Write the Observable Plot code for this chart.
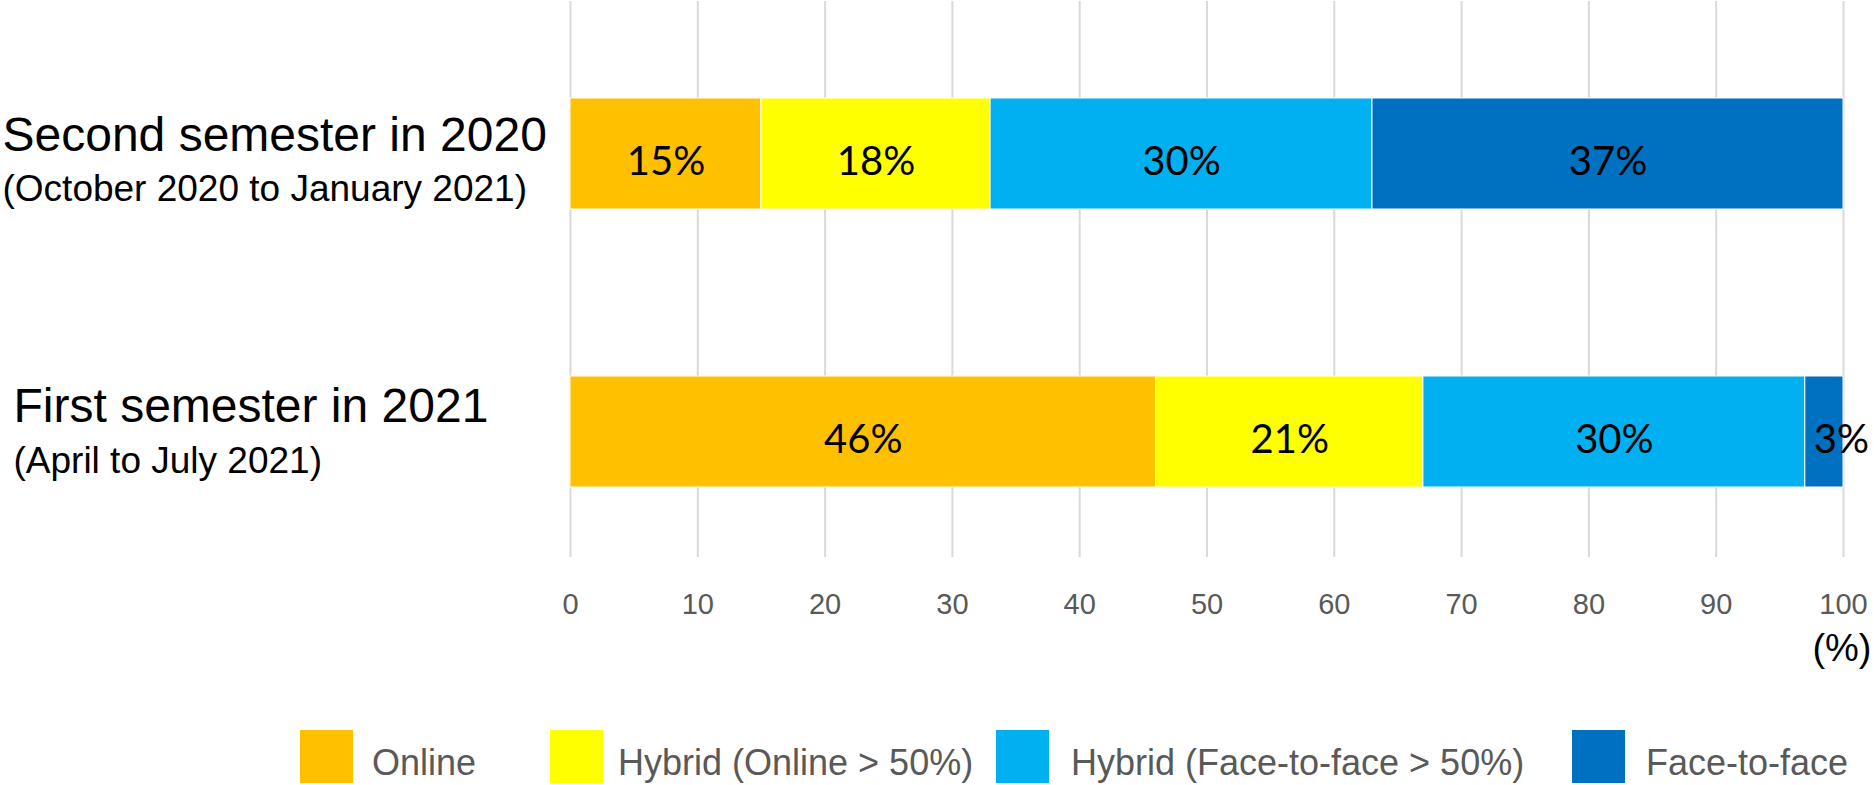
<!DOCTYPE html>
<html>
<head>
<meta charset="utf-8">
<script src="https://cdn.jsdelivr.net/npm/d3@7"></script>
<script src="https://cdn.jsdelivr.net/npm/@observablehq/plot@0.6"></script>
<style>
  html, body { margin: 0; padding: 0; background: #fff; }
  #wrap { position: relative; width: 1874px; height: 785px; overflow: hidden; background: #fff; }
  #wrap svg { position: absolute; left: 0; top: 0; }
  .sw { position: absolute; width: 53px; height: 53px; }
  .lt { position: absolute; font-family: 'Liberation Sans', Arial, sans-serif; font-size: 36px; line-height: 36px; color: #595959; white-space: nowrap; }
</style>
</head>
<body>
<div id="wrap"></div>
<script>
// ---- data ----
const categories = ["Second semester in 2020", "First semester in 2021"];
const subtitles = ["(October 2020 to January 2021)", "(April to July 2021)"];
const types = ["Online", "Hybrid (Online > 50%)", "Hybrid (Face-to-face > 50%)", "Face-to-face"];
const colors = ["#FFC000", "#FFFF00", "#00B0F0", "#0070C0"];
const values2020 = [15, 18, 30, 37];
const values2021 = [46, 21, 30, 3];
const xTicks = [0, 10, 20, 30, 40, 50, 60, 70, 80, 90, 100];
const xUnit = "(%)";

// ---- layout constants ----
const labelIndent = [-568, -557];
const titleDy = [-18, -25];
const subDy = [35, 29];
const legendSwatchLeft = [300, 550, 996, 1572];
const legendTextLeft = [372, 618, 1071, 1646];

const rows = [];
[values2020, values2021].forEach((vals, i) =>
  vals.forEach((v, j) => rows.push({cat: categories[i], type: types[j], value: v}))
);

const plot = Plot.plot({
  width: 1874,
  height: 680,
  marginTop: 1,
  marginBottom: 123,
  marginLeft: 570,
  marginRight: -16,
  style: {fontFamily: "'Liberation Sans', Arial, sans-serif", background: "white", overflow: "visible"},
  x: {domain: [0, 100], range: [570, 1843]},
  y: {domain: categories, range: [97, 487], paddingInner: 0.602, paddingOuter: 0, axis: null},
  color: {domain: types, range: colors},
  marks: [
    Plot.gridX(xTicks, {stroke: "#d9d9d9", strokeOpacity: 1, strokeWidth: 2}),
    Plot.barX(rows, Plot.stackX({x: "value", y: "cat", fill: "type", stroke: "white", strokeWidth: 1})),
    Plot.text(rows, Plot.stackX({
      x: "value", y: "cat", z: "type",
      text: d => d.value >= 5 ? d.value + "%" : null,
      fontFamily: "Lato", fontSize: 40, fill: "black", dy: 8
    })),
    Plot.text(rows, Plot.stackX({
      x: "value", y: "cat", z: "type",
      text: d => d.value < 5 ? d.value + "%" : null,
      fontFamily: "Lato", fontSize: 40, fill: "black", dy: 8, dx: 17
    })),
    ...categories.map((c, i) => Plot.text([c], {
      y: d => d, text: d => d, frameAnchor: "left", textAnchor: "start",
      dx: labelIndent[i], dy: titleDy[i], fontSize: 48, fill: "black"
    })),
    ...categories.map((c, i) => Plot.text([c], {
      y: d => d, text: () => subtitles[i], frameAnchor: "left", textAnchor: "start",
      dx: labelIndent[i], dy: subDy[i], fontSize: 37, fill: "black"
    })),
    Plot.axisX(xTicks, {tickSize: 0, tickPadding: 36, fontSize: 29, color: "#595959", label: null}),
    Plot.axisX([], {tickSize: 0, label: xUnit, labelAnchor: "right", labelArrow: "none", labelOffset: 103, fontSize: 38, color: "black"})
  ]
});

const wrap = document.getElementById("wrap");
wrap.appendChild(plot);

types.forEach((t, i) => {
  const sw = document.createElement("div");
  sw.className = "sw";
  sw.style.left = legendSwatchLeft[i] + "px";
  sw.style.top = "730px";
  sw.style.background = colors[i];
  wrap.appendChild(sw);
  const lt = document.createElement("div");
  lt.className = "lt";
  lt.style.left = legendTextLeft[i] + "px";
  lt.style.top = "745px";
  lt.textContent = t;
  wrap.appendChild(lt);
});
</script>
</body>
</html>
